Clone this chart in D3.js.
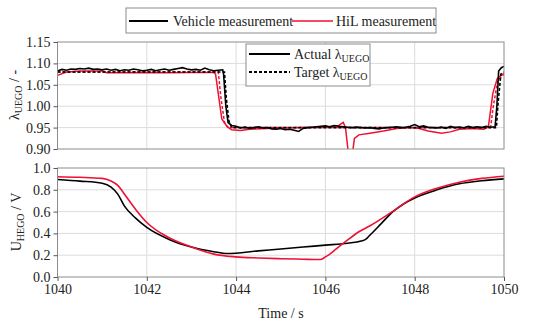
<!DOCTYPE html>
<html><head><meta charset="utf-8">
<script src="https://cdn.jsdelivr.net/npm/d3@7"></script>
<style>body{margin:0;background:#fff}svg{display:block}svg text{font-family:"Liberation Serif","Times New Roman",serif !important}</style>
</head><body><svg id="c" width="550" height="325"></svg>
<script>
// ---------- data ----------
const timeTicks = [1040,1042,1044,1046,1048,1050];
const lambdaTicks = [0.90,0.95,1.00,1.05,1.10,1.15];
const voltTicks = [0.0,0.2,0.4,0.6,0.8,1.0];

// vehicle actual lambda, sampled every 0.1 s from 1040.0 to 1043.7
const vehLamA = [1.082,1.086,1.084,1.087,1.086,1.088,1.087,1.089,1.086,1.087,1.085,1.087,1.084,1.086,1.083,1.085,1.084,1.087,1.085,1.083,1.084,1.086,1.083,1.085,1.087,1.084,1.086,1.088,1.090,1.087,1.085,1.086,1.084,1.089,1.085,1.083,1.084,1.085];
// vehicle actual lambda, sampled every 0.1 s from 1044.0 to 1049.8
const vehLamB = [0.953,0.949,0.951,0.948,0.950,0.952,0.949,0.950,0.947,0.946,0.948,0.945,0.946,0.944,0.941,0.948,0.950,0.951,0.952,0.953,0.954,0.952,0.955,0.953,0.952,0.951,0.950,0.951,0.950,0.949,0.950,0.948,0.947,0.949,0.950,0.951,0.952,0.950,0.951,0.953,0.957,0.952,0.954,0.951,0.950,0.949,0.951,0.948,0.953,0.950,0.951,0.949,0.953,0.950,0.952,0.950,0.953,0.951,0.952];
const vehLamTransT = [1043.72,1043.77,1043.82,1043.9];
const vehLamTransV = [1.075,1.00,0.962,0.955];
const vehLamEndT = [1049.84,1049.88,1049.94,1050];
const vehLamEndV = [1.00,1.082,1.09,1.093];

const vehTargetT = [1040,1043.74,1043.78,1043.84,1043.9,1049.83,1049.87,1049.93,1050];
const vehTargetV = [1.08,1.08,1.02,0.965,0.95,0.95,1.01,1.075,1.08];

const hilTargetT = [1040,1043.6,1043.66,1043.74,1043.82,1049.7,1049.76,1049.86,1050];
const hilTargetV = [1.08,1.08,1.02,0.962,0.95,0.95,1.0,1.06,1.075];

const hilLamT = [1040,1040.2,1040.5,1041,1041.1,1041.5,1042,1042.5,1043,1043.5,1043.54,1043.68,1043.8,1043.9,1044.1,1044.3,1044.7,1045,1045.5,1046,1046.3,1046.4,1046.45,1046.52,1046.6,1046.65,1046.75,1047,1047.3,1047.6,1047.9,1048.1,1048.3,1048.6,1048.8,1049,1049.3,1049.55,1049.65,1049.75,1049.85,1050];
const hilLamV = [1.072,1.08,1.082,1.082,1.078,1.078,1.079,1.078,1.079,1.079,1.075,0.97,0.952,0.945,0.943,0.946,0.948,0.949,0.950,0.951,0.955,0.962,0.95,0.885,0.885,0.925,0.933,0.937,0.942,0.948,0.950,0.948,0.942,0.937,0.940,0.946,0.948,0.946,0.952,1.03,1.065,1.077];

const vehVoltT = [1040,1040.5,1041,1041.2,1041.35,1041.5,1041.75,1042,1042.5,1043,1043.5,1043.8,1044.5,1045,1045.5,1046,1046.5,1046.8,1046.9,1047,1047.25,1047.5,1047.75,1048,1048.5,1049,1049.5,1050];
const vehVoltV = [0.895,0.88,0.86,0.825,0.76,0.65,0.54,0.455,0.345,0.275,0.232,0.215,0.24,0.257,0.275,0.292,0.31,0.33,0.345,0.385,0.49,0.595,0.67,0.725,0.80,0.855,0.883,0.9];
const hilVoltT = [1040,1040.5,1041,1041.2,1041.35,1041.5,1041.75,1042,1042.5,1043,1043.5,1044,1044.5,1045,1045.5,1045.85,1045.93,1046,1046.1,1046.25,1046.5,1046.75,1047,1047.5,1048,1048.5,1049,1049.5,1050];
const hilVoltV = [0.92,0.915,0.905,0.88,0.84,0.76,0.62,0.50,0.36,0.275,0.21,0.185,0.175,0.168,0.163,0.16,0.165,0.185,0.21,0.26,0.34,0.415,0.47,0.60,0.735,0.815,0.87,0.905,0.925];
</script>
<script>
const FONT = '"Liberation Serif", "Times New Roman", serif';
const red = "#ee1133";
const svg = d3.select("#c");
const L = 57.5, R = 504;
const x = d3.scaleLinear().domain([1040,1050]).range([L,R]);
const yT = d3.scaleLinear().domain([0.90,1.15]).range([149,42]);
const yB = d3.scaleLinear().domain([0,1]).range([277,168]);

function grid(yS, ticks, top, bot){
  const g = svg.append("g");
  g.selectAll(".gv").data(timeTicks.slice(1,-1)).join("line")
    .attr("x1",d=>x(d)).attr("x2",d=>x(d)).attr("y1",top).attr("y2",bot)
    .attr("stroke","#dcdcdc").attr("stroke-width",1);
  g.selectAll(".gh").data(ticks.slice(1,-1)).join("line")
    .attr("x1",L).attr("x2",R).attr("y1",d=>yS(d)).attr("y2",d=>yS(d))
    .attr("stroke","#dcdcdc").attr("stroke-width",1);
}
grid(yT, lambdaTicks, 42, 149);
grid(yB, voltTicks, 168, 277);

const defs = svg.append("defs");
defs.append("clipPath").attr("id","clipT").append("rect").attr("x",L).attr("y",42).attr("width",R-L).attr("height",107);
defs.append("clipPath").attr("id","clipB").append("rect").attr("x",L).attr("y",168).attr("width",R-L).attr("height",109);

const lineT = d3.line().x(d=>x(d[0])).y(d=>yT(d[1]));
const lineB = d3.line().x(d=>x(d[0])).y(d=>yB(d[1])).curve(d3.curveMonotoneX);
const zip = (a,b)=>a.map((t,i)=>[t,b[i]]);

const vehLam = [
  ...vehLamA.map((v,i)=>[1040+i*0.1,v]),
  ...zip(vehLamTransT,vehLamTransV),
  ...vehLamB.map((v,i)=>[1044+i*0.1,v]),
  ...zip(vehLamEndT,vehLamEndV)
];

const gT = svg.append("g").attr("clip-path","url(#clipT)");
gT.append("path").attr("d",lineT(zip(hilTargetT,hilTargetV))).attr("fill","none").attr("stroke",red).attr("stroke-width",1.5).attr("stroke-dasharray","3,2");
gT.append("path").attr("d",lineT(zip(hilLamT,hilLamV))).attr("fill","none").attr("stroke",red).attr("stroke-width",1.5);
gT.append("path").attr("d",lineT(vehLam)).attr("fill","none").attr("stroke","#000").attr("stroke-width",1.6);
gT.append("path").attr("d",lineT(zip(vehTargetT,vehTargetV))).attr("fill","none").attr("stroke","#000").attr("stroke-width",1.6).attr("stroke-dasharray","3,2");

const gB = svg.append("g").attr("clip-path","url(#clipB)");
gB.append("path").attr("d",lineB(zip(vehVoltT,vehVoltV))).attr("fill","none").attr("stroke","#000").attr("stroke-width",1.6);
gB.append("path").attr("d",lineB(zip(hilVoltT,hilVoltV))).attr("fill","none").attr("stroke",red).attr("stroke-width",1.6);

[[42,149],[168,277]].forEach(([t,b])=>{
  svg.append("rect").attr("x",L).attr("y",t).attr("width",R-L).attr("height",b-t)
    .attr("fill","none").attr("stroke","#8c8c8c").attr("stroke-width",1);
});

function styleAxis(g){
  g.attr("font-family",null).attr("font-size",14);
  g.select(".domain").remove();
  g.selectAll(".tick line").attr("stroke","#555");
  g.selectAll(".tick text").attr("fill","#222").style("font-family",FONT).style("font-size","14px");
}
svg.append("g").attr("transform",`translate(${L},0)`)
  .call(d3.axisLeft(yT).tickValues(lambdaTicks).tickFormat(d3.format(".2f")).tickSize(4).tickPadding(3)).call(styleAxis);
svg.append("g").attr("transform",`translate(${L},0)`)
  .call(d3.axisLeft(yB).tickValues(voltTicks).tickFormat(d3.format(".1f")).tickSize(4).tickPadding(3)).call(styleAxis);
svg.append("g").attr("transform",`translate(0,277)`)
  .call(d3.axisBottom(x).tickValues(timeTicks).tickFormat(d3.format("d")).tickSize(4).tickPadding(3)).call(styleAxis);

function txt(){ return svg.append("text").style("font-family",FONT).attr("font-size",14).attr("fill","#222"); }
const t1 = txt().attr("transform","translate(19,95) rotate(-90)").attr("text-anchor","middle");
t1.append("tspan").text("λ");
t1.append("tspan").attr("font-size",10).attr("dy",3).text("UEGO");
t1.append("tspan").attr("dy",-3).text(" / -");
const t2 = txt().attr("transform","translate(21,222) rotate(-90)").attr("text-anchor","middle");
t2.append("tspan").text("U");
t2.append("tspan").attr("font-size",10).attr("dy",3).text("HEGO");
t2.append("tspan").attr("dy",-3).text(" / V");
txt().attr("x",281).attr("y",318).attr("text-anchor","middle").text("Time / s");

svg.append("rect").attr("x",126).attr("y",8).attr("width",310).attr("height",25).attr("fill","#fff").attr("stroke","#8c8c8c");
svg.append("line").attr("x1",129).attr("x2",168).attr("y1",21).attr("y2",21).attr("stroke","#000").attr("stroke-width",2);
txt().attr("x",173).attr("y",26).text("Vehicle measurement");
svg.append("line").attr("x1",292).attr("x2",333).attr("y1",21).attr("y2",21).attr("stroke",red).attr("stroke-width",1.6);
txt().attr("x",336).attr("y",26).text("HiL measurement");

svg.append("rect").attr("x",246).attr("y",44).attr("width",124).attr("height",42).attr("fill","#fff").attr("stroke","#8c8c8c");
svg.append("line").attr("x1",249).attr("x2",290).attr("y1",54).attr("y2",54).attr("stroke","#000").attr("stroke-width",2);
svg.append("line").attr("x1",249).attr("x2",290).attr("y1",72).attr("y2",72).attr("stroke","#000").attr("stroke-width",2).attr("stroke-dasharray","3,2");
const l1 = txt().attr("x",294).attr("y",59);
l1.append("tspan").text("Actual λ"); l1.append("tspan").attr("font-size",10).attr("dy",3).text("UEGO");
const l2 = txt().attr("x",294).attr("y",77);
l2.append("tspan").text("Target λ"); l2.append("tspan").attr("font-size",10).attr("dy",3).text("UEGO");
</script></body></html>
